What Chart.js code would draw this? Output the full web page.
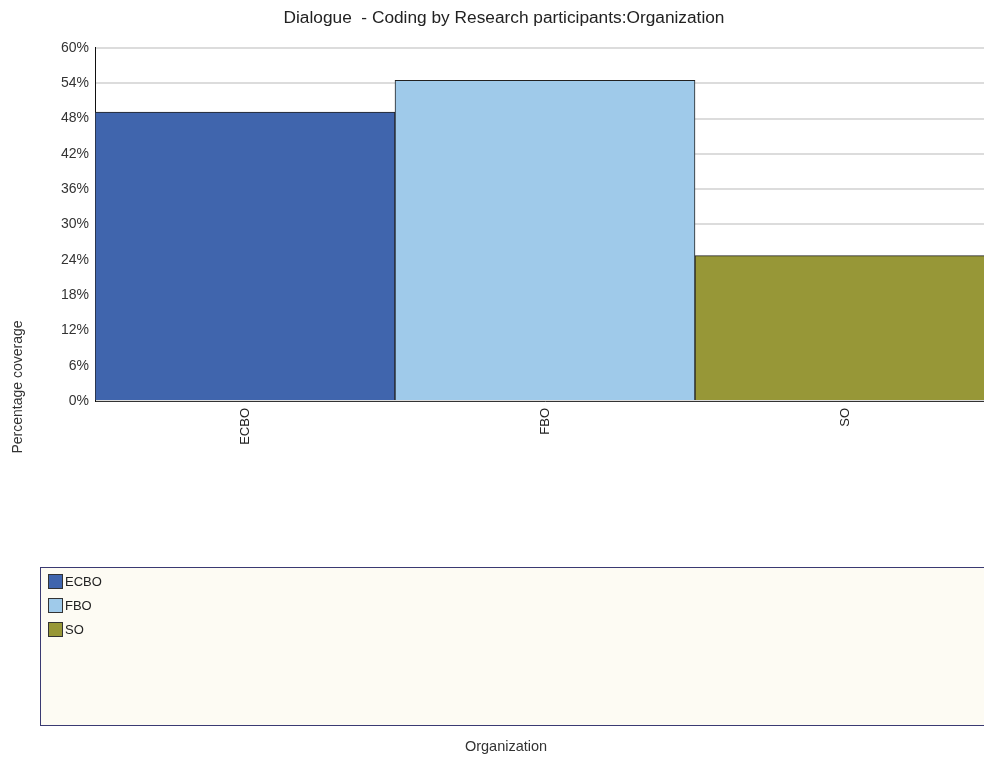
<!DOCTYPE html>
<html>
<head>
<meta charset="utf-8">
<title>Dialogue - Coding by Research participants:Organization</title>
<script src="https://cdn.jsdelivr.net/npm/chart.js@4"></script>
<style>
  html, body { margin: 0; padding: 0; background: #fff; overflow: hidden; }
  #wrap { width: 995px; height: 757px; }
</style>
</head>
<body>
<div id="wrap"><canvas id="myChart" width="995" height="757"></canvas></div>
<script>
// data
const categories = ['ECBO', 'FBO', 'SO'];
const coverage = [49.1, 54.5, 24.7];
const barColors = ['#4065ad', '#9fcaea', '#979737'];

const FONT = '"Liberation Sans", Arial, sans-serif';
Chart.defaults.font.family = FONT;
Chart.defaults.color = '#333';

// legend box + axis captions, drawn like the original report chart
const extras = {
  id: 'extras',
  afterDraw(chart) {
    const ctx = chart.ctx;
    const labels = chart.data.labels;
    const colors = chart.data.datasets[0].backgroundColor;
    ctx.save();

    // y axis caption
    ctx.font = '14px ' + FONT;
    ctx.fillStyle = '#333';
    ctx.textAlign = 'center';
    ctx.textBaseline = 'middle';
    ctx.translate(18, 387);
    ctx.rotate(-Math.PI / 2);
    ctx.fillText('Percentage coverage', 0, 0);
    ctx.setTransform(1, 0, 0, 1, 0, 0);

    // legend box
    ctx.fillStyle = '#fdfbf3';
    ctx.fillRect(40.5, 567.5, 1000, 158);
    ctx.strokeStyle = '#3a3a72';
    ctx.lineWidth = 1;
    ctx.strokeRect(40.5, 567.5, 1000, 158);

    labels.forEach((lab, i) => {
      const y = 574 + i * 24;
      ctx.fillStyle = colors[i];
      ctx.fillRect(48, y, 15, 15);
      ctx.strokeStyle = '#333';
      ctx.strokeRect(48.5, y + 0.5, 14, 14);
      ctx.fillStyle = '#222';
      ctx.textAlign = 'left';
      ctx.textBaseline = 'middle';
      ctx.font = '13px ' + FONT;
      ctx.fillText(lab, 65, y + 8);
    });

    // x axis caption
    ctx.fillStyle = '#333';
    ctx.textAlign = 'center';
    ctx.font = '14.5px ' + FONT;
    ctx.fillText('Organization', 506, 747);
    ctx.restore();
  }
};

const myChart = new Chart(document.getElementById('myChart'), {
  type: 'bar',
  data: {
    labels: categories,
    datasets: [{
      data: coverage,
      backgroundColor: barColors,
      borderColor: '#222',
      borderWidth: 1,
      categoryPercentage: 1,
      barPercentage: 1
    }]
  },
  options: {
    responsive: false,
    animation: false,
    devicePixelRatio: 1,
    layout: { padding: { left: 13, right: 0, top: 0, bottom: 0 } },
    plugins: {
      legend: { display: false },
      tooltip: { enabled: false },
      title: {
        display: true,
        text: 'Dialogue  - Coding by Research participants:Organization',
        color: '#222',
        font: { size: 17.3, weight: 'normal' },
        padding: { top: 8, bottom: 19.2 }
      }
    },
    scales: {
      x: {
        grid: { display: false, drawTicks: false },
        border: { display: true, color: '#333', width: 1 },
        ticks: {
          minRotation: 90,
          maxRotation: 90,
          padding: 7,
          color: '#222',
          font: { size: 13 }
        },
        afterFit(scale) { scale.height = 356; }
      },
      y: {
        min: 0,
        max: 60,
        grid: { color: '#dcdcdc', lineWidth: 2, drawTicks: false },
        border: { display: true, color: '#111', width: 1 },
        ticks: {
          stepSize: 6,
          padding: 6,
          color: '#333',
          font: { size: 14 },
          callback: v => v + '%'
        },
        afterFit(scale) { scale.width = 82; }
      }
    }
  },
  plugins: [extras]
});
</script>
</body>
</html>
